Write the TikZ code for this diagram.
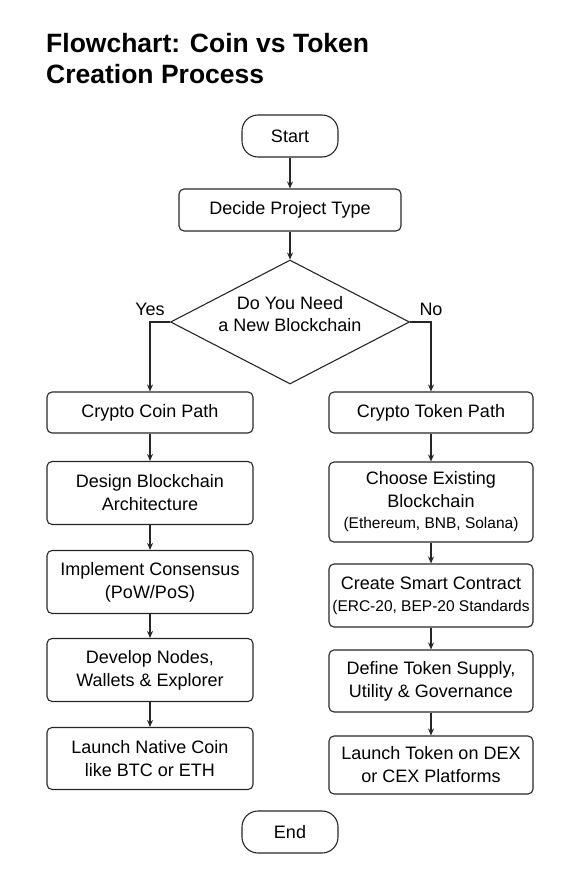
\documentclass[tikz,border=0pt]{standalone}
\usepackage{fontspec}
\setmainfont{Liberation Sans}
\usetikzlibrary{shapes.geometric,arrows.meta}
\newcommand{\smtxt}{\fontsize{15.5}{19}\selectfont}
\begin{document}
\begin{tikzpicture}[x=1pt,y=-1pt,
  box/.style={draw=black!85, line width=1.1pt, rounded corners=5pt, align=center, inner sep=0pt, text=black, font=\fontsize{18}{23}\selectfont},
  term/.style={box, rounded corners=16pt, minimum width=96pt, minimum height=42pt},
  lbox/.style={box, minimum width=206pt},
  rbox/.style={box, minimum width=204pt},
  lbl/.style={font=\fontsize{18}{22}\selectfont, inner sep=0pt, align=center},
  arr/.style={-{Stealth[length=7pt,width=6pt]}, line width=1.1pt, draw=black!85},
]
\useasboundingbox (0,0) rectangle (580,870);
\node[anchor=base west, align=left, inner sep=0pt, font=\bfseries\fontsize{26.5}{31}\selectfont] (title) at (46,83) {Flowchart: Coin vs Token\\Creation Process};

\node[term] (start) at (290,136) {Start};
\node[box, minimum width=222pt, minimum height=42pt] (decide) at (290,210) {Decide Project Type};
\node[draw=black!85, diamond, minimum width=239pt, minimum height=124pt, inner sep=0pt, line width=1.1pt] (dec) at (290,322) {};
\node[lbl] (dectext) at (290,314) {Do You Need\\a New Blockchain};

\node[lbl] (yes) at (150,309) {Yes};
\node[lbl] (no) at (431,309) {No};

\node[lbox, minimum height=41pt] (coin) at (150,412.5) {Crypto Coin Path};
\node[rbox, minimum height=41pt] (token) at (431,412.5) {Crypto Token Path};

\node[lbox, minimum height=63pt] (design) at (150,493) {Design Blockchain\\Architecture};
\node[lbox, minimum height=63pt] (cons) at (150,582) {Implement Consensus\\(PoW/PoS)};
\node[lbox, minimum height=63pt] (nodes) at (150,670) {Develop Nodes,\\Wallets \& Explorer};
\node[lbox, minimum height=62pt] (launchc) at (150,758.5) {Launch Native Coin\\like BTC or ETH};

\node[rbox, minimum height=80pt] (choose) at (431,502) {Choose Existing\\Blockchain\\[-2pt]{\smtxt (Ethereum, BNB, Solana)}};
\node[rbox, minimum height=63pt] (smart) at (431,595.5) {Create Smart Contract\\[-1pt]{\smtxt (ERC-20, BEP-20 Standards}};
\node[rbox, minimum height=62pt] (supply) at (431,681) {Define Token Supply,\\Utility \& Governance};
\node[rbox, minimum height=58pt] (launcht) at (431,765) {Launch Token on DEX\\or CEX Platforms};

\node[term] (end) at (290,832) {End};

\draw[arr] (start) -- (decide);
\draw[arr] (decide) -- (dec.north);
\draw[arr] (dec.west) -| (coin.north);
\draw[arr] (dec.east) -| (token.north);
\draw[arr] (coin) -- (design);
\draw[arr] (design) -- (cons);
\draw[arr] (cons) -- (nodes);
\draw[arr] (nodes) -- (launchc);
\draw[arr] (token) -- (choose);
\draw[arr] (choose) -- (smart);
\draw[arr] (smart) -- (supply);
\draw[arr] (supply) -- (launcht);
\end{tikzpicture}
\end{document}
